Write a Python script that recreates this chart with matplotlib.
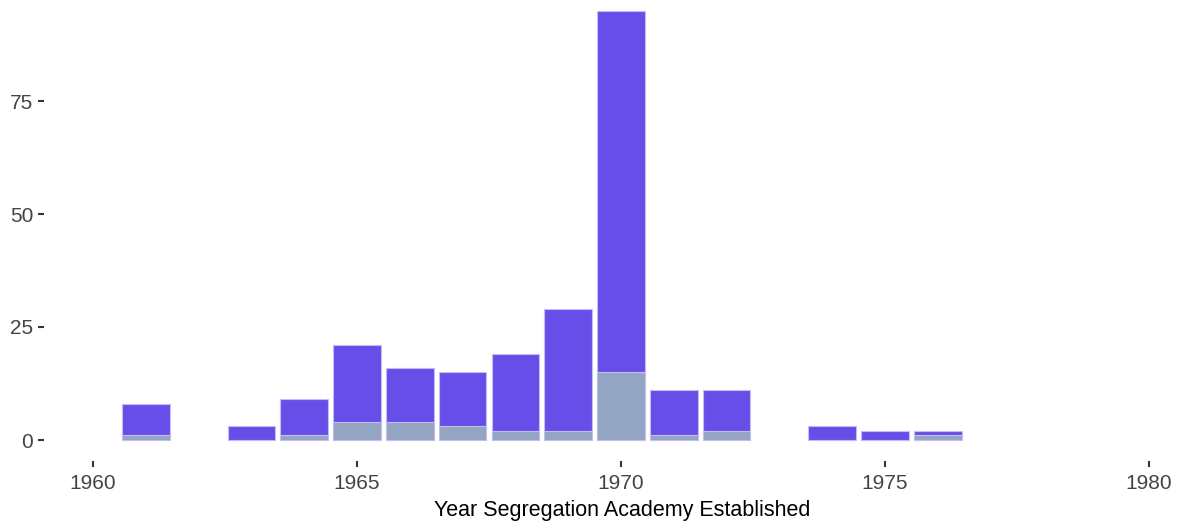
import matplotlib
matplotlib.use("Agg")
import matplotlib.pyplot as plt
import numpy as np

plt.rcParams["font.family"] = ["Liberation Sans", "DejaVu Sans"]

# counts by founding year; "other" is the lower (gray-blue) part of each stack
years = [1961, 1963, 1964, 1965, 1966, 1967, 1968, 1969, 1970, 1971, 1972, 1974, 1975, 1976]
total = [8, 3, 9, 21, 16, 15, 19, 29, 95, 11, 11, 3, 2, 2]
other = [1, 0, 1, 4, 4, 3, 2, 2, 15, 1, 2, 0, 0, 1]
x_ticks = [1960, 1965, 1970, 1975, 1980]
y_ticks = [0, 25, 50, 75]

W, H = 1180, 525
fig = plt.figure(figsize=(W / 100, H / 100), dpi=100)
# panel in pixel coords: left 44, bottom 461, top at figure edge, right at figure edge
ax = fig.add_axes([44 / W, (H - 461) / H, (W - 44) / W, 461 / H])

rest = np.array(total) - np.array(other)
bar_kw = dict(width=0.9, edgecolor="#c4bdf4", linewidth=0.8)
ax.bar(years, other, color="#93a5c2", **bar_kw)
ax.bar(years, rest, bottom=other, color="#684ee8", **bar_kw)

# x scale: 1960 -> px 93, 52.8 px per year
x0 = 1960 - (93 - 44) / 52.8
x1 = 1960 + (W - 93) / 52.8
ax.set_xlim(x0, x1)
# y scale: 0 -> px 440, 4.52 px per unit
ax.set_ylim(-(461 - 440) / 4.52, 440 / 4.52)

ax.set_xticks(x_ticks)
ax.set_yticks(y_ticks)
for s in ax.spines.values():
    s.set_visible(False)
ax.tick_params(axis="both", length=4.3, width=1.5, color="#333333",
               labelsize=15, labelcolor="#444444", pad=3.5)
ax.tick_params(axis="x", pad=5)
ax.set_xlabel("Year Segregation Academy Established", fontsize=15.5, color="black")
# original panel runs past the right edge, so the title sits right of centre
ax.xaxis.set_label_coords((622 - 44) / (W - 44), -0.085)

fig.savefig("out.png", dpi=100)
